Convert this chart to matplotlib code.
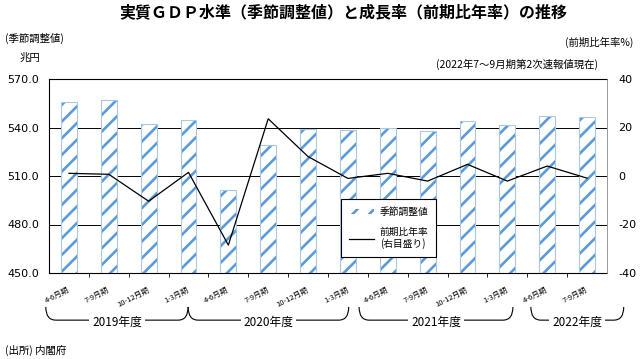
import numpy as np
import matplotlib
matplotlib.use("Agg")
import matplotlib.pyplot as plt
import matplotlib.transforms as mtrans
from matplotlib.path import Path
from matplotlib.patches import PathPatch, Patch
from matplotlib.lines import Line2D

plt.rcParams['font.family'] = ['Noto Sans CJK JP', 'DejaVu Sans']
plt.rcParams['hatch.linewidth'] = 1.9

# ---- data ----
quarters = ["4-6月期", "7-9月期", "10-12月期", "1-3月期",
            "4-6月期", "7-9月期", "10-12月期", "1-3月期",
            "4-6月期", "7-9月期", "10-12月期", "1-3月期",
            "4-6月期", "7-9月期"]
gdp_level = [555.8, 556.8, 542.2, 544.5, 501.2, 529.0, 539.3,
             538.3, 539.9, 537.8, 543.8, 541.4, 547.3, 546.5]
growth_rate = [1.1, 0.7, -10.4, 1.5, -28.5, 23.6, 8.0,
               -1.0, 1.1, -2.1, 4.8, -2.1, 4.1, -0.9]
fiscal_years = ["2019年度", "2020年度", "2021年度", "2022年度"]
left_ticks = [450, 480, 510, 540, 570]
right_ticks = [-40, -20, 0, 20, 40]

HATCH_BLUE = '#5B9BD5'
EDGE_BLUE = '#A9C8E8'

fig = plt.figure(figsize=(6.4, 3.59), dpi=100)
ax = fig.add_axes([49/640, 1-273/359, 558/640, 194/359])
x = np.arange(len(quarters))

ax.bar(x, gdp_level, width=0.4, color='white', edgecolor=HATCH_BLUE,
       hatch='//', linewidth=0, zorder=2)
ax.bar(x, gdp_level, width=0.4, fill=False, edgecolor=EDGE_BLUE,
       linewidth=0.8, zorder=3)

ax.set_xlim(-0.5, len(quarters) - 0.5)
ax.set_ylim(left_ticks[0], left_ticks[-1])
ax.set_yticks(left_ticks)
ax.set_yticklabels([f"{v:.1f}" for v in left_ticks], family='DejaVu Sans')
ax.tick_params(axis='y', length=0, pad=7, labelsize=8)
ax.yaxis.grid(True, color='black', linewidth=0.7)
ax.set_axisbelow(True)

ax.set_xticks(x)
ax.set_xticklabels(quarters, rotation=27, ha='right', va='center',
                   rotation_mode='anchor', fontsize=5.5)
ax.tick_params(axis='x', which='major', length=0, pad=12)
ax.set_xticks(np.arange(0.5, len(quarters) - 1, 1), minor=True)
ax.tick_params(axis='x', which='minor', length=3, width=0.6, direction='out')

for s in ['left', 'top', 'bottom']:
    ax.spines[s].set_color('black')
    ax.spines[s].set_linewidth(0.8)
ax.spines['right'].set_visible(False)

ax2 = ax.twinx()
ax2.plot(x, growth_rate, color='black', linewidth=0.9, zorder=4)
ax2.set_ylim(right_ticks[0], right_ticks[-1])
ax2.set_yticks(right_ticks)
ax2.set_yticklabels([str(v) for v in right_ticks], family='DejaVu Sans')
ax2.tick_params(axis='y', length=0, pad=8, labelsize=8)
for s in ['left', 'top', 'bottom']:
    ax2.spines[s].set_visible(False)
ax2.spines['right'].set_color('#888888')
ax2.spines['right'].set_linewidth(0.6)

handles = [Patch(facecolor='white', edgecolor=HATCH_BLUE, hatch='//', linewidth=0),
           Line2D([], [], color='black', linewidth=0.9)]
leg = ax2.legend(handles, ['季節調整値', '前期比年率\n(右目盛り)'],
                 loc='upper left', bbox_to_anchor=(0.523, 0.381),
                 borderaxespad=0, fontsize=7, frameon=True, fancybox=False,
                 edgecolor='black', framealpha=1, handlelength=2.6,
                 handleheight=0.5, labelspacing=1.0, borderpad=0.8,
                 handletextpad=0.6)
leg.get_frame().set_linewidth(0.8)

# fiscal-year braces
blend = mtrans.blended_transform_factory(ax.transData, ax.transAxes)
brace_spans = [(-0.58, 2.99), (2.99, 7.02), (7.28, 11.14), (11.59, 13.92)]
y_top, y_bot, d = -0.175, -0.243, 0.25
for (x0, x1), label in zip(brace_spans, fiscal_years):
    verts = [(x0, y_top), (x0, y_bot), (x0 + d, y_bot),
             (x1 - d, y_bot), (x1, y_bot), (x1, y_top)]
    codes = [Path.MOVETO, Path.CURVE3, Path.CURVE3,
             Path.LINETO, Path.CURVE3, Path.CURVE3]
    ax.add_patch(PathPatch(Path(verts, codes), transform=blend, fill=False,
                           edgecolor='black', linewidth=0.8, clip_on=False))
    ax.text((x0 + x1) / 2, y_bot - 0.01, label, transform=blend, ha='center',
            va='center', fontsize=8.5, clip_on=False, zorder=5,
            bbox=dict(facecolor='white', edgecolor='none', pad=2))

# texts
fig.text(343/640, 1-12/359, '実質ＧＤＰ水準（季節調整値）と成長率（前期比年率）の推移',
         ha='center', va='center', fontsize=11.5, fontweight='bold')
fig.text(5/640, 1-38/359, '(季節調整値)', ha='left', va='center', fontsize=7.5)
fig.text(20/640, 1-58/359, '兆円', ha='left', va='center', fontsize=7.5)
fig.text(633/640, 1-42/359, '(前期比年率%)', ha='right', va='center', fontsize=7.5)
fig.text(598/640, 1-64/359, '(2022年7～9月期第2次速報値現在)', ha='right',
         va='center', fontsize=7.5)
fig.text(5/640, 1-350/359, '(出所) 内閣府', ha='left', va='center', fontsize=7.5)

fig.savefig('out.png', dpi=100)
